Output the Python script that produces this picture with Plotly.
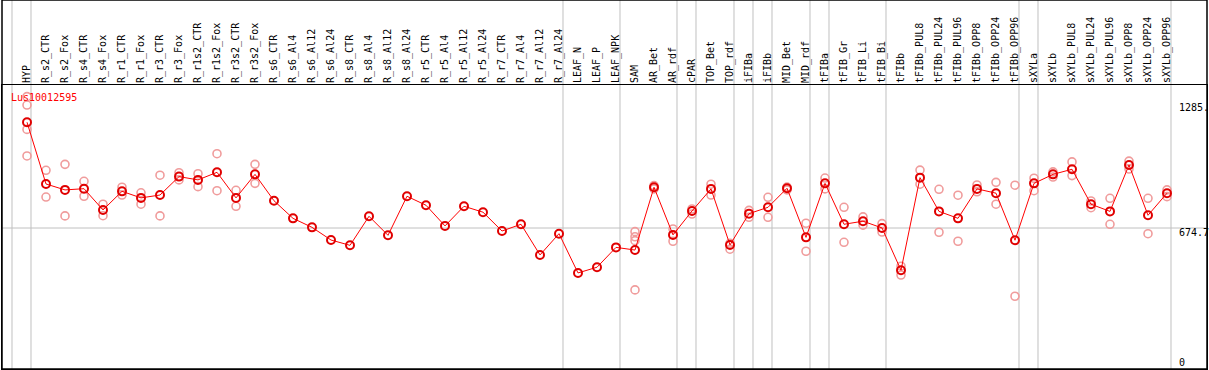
import plotly.graph_objects as go

categories = ["HYP", "R_s2_CTR", "R_s2_Fox", "R_s4_CTR", "R_s4_Fox", "R_r1_CTR", "R_r1_Fox",
              "R_r3_CTR", "R_r3_Fox", "R_r1s2_CTR", "R_r1s2_Fox", "R_r3s2_CTR", "R_r3s2_Fox",
              "R_s6_CTR", "R_s6_Al4", "R_s6_Al12", "R_s6_Al24", "R_s8_CTR", "R_s8_Al4", "R_s8_Al12",
              "R_s8_Al24", "R_r5_CTR", "R_r5_Al4", "R_r5_Al12", "R_r5_Al24", "R_r7_CTR", "R_r7_Al4",
              "R_r7_Al12", "R_r7_Al24", "LEAF_N", "LEAF_P", "LEAF_NPK", "SAM", "AR_Bet", "AR_rdf",
              "cPAR", "TOP_Bet", "TOP_rdf", "iFIBa", "iFIBb", "MID_Bet", "MID_rdf", "tFIBa",
              "tFIB_Gr", "tFIB_Li", "tFIB_Bi", "tFIBb", "tFIBb_PUL8", "tFIBb_PUL24", "tFIBb_PUL96",
              "tFIBb_OPP8", "tFIBb_OPP24", "tFIBb_OPP96", "sXYLa", "sXYLb", "sXYLb_PUL8",
              "sXYLb_PUL24", "sXYLb_PUL96", "sXYLb_OPP8", "sXYLb_OPP24", "sXYLb_OPP96"]

means = [1192, 890, 861, 867, 763, 854, 822, 836, 926, 910, 947, 822, 937, 808, 722, 678, 616,
         590, 732, 639, 830, 786, 685, 781, 752, 660, 693, 543, 647, 455, 483, 580, 567, 874,
         641, 758, 866, 592, 745, 776, 869, 629, 893, 693, 708, 675, 468, 921, 756, 722, 866,
         845, 615, 893, 937, 962, 791, 756, 983, 737, 845]

N = None
rep1 = [1317, 957, 986, 903, 791, 874, 847, 933, 945, 940, 1038, 859, 986,
        N, N, N, N, N, N, N, N, N, N, N, N, N, N, N, N, N, N, N,
        657, 882, 670, 768, 889, 600, 761, 825, 875, 698, 919, 776, 729, 696, 488, 958, 864,
        835, 885, 898, 884, 918, 949, 998, 807, 820, 1002, 820, 861]
rep2 = [1027, 826, 734, 830, 735, 836, 791, 734, 910, 877, 857, 781, 893,
        N, N, N, N, N, N, N, N, N, N, N, N, N, N, N, N, N, N, N,
        372, 866, 610, 743, 836, 571, 727, 727, 861, 561, 866, 605, 689, 655, 445, 889, 654,
        610, 852, 791, 341, 857, 924, 931, 774, 693, 963, 647, 828]
rep3 = [1276] + [N] * 31 + [632] + [N] * 28
rep4 = [1157] + [N] * 31 + [613] + [N] * 28

separators = [-1, 0, 28, 31, 34, 35, 37, 38, 39, 41, 42, 45, 52, 53, 60]
ref_value = 674.7
gene = "Lus10012595"
scale_labels = ["1285.", "674.7", "0"]

W, H = 1209, 370
ML, MR, MT, MB = 2, 2, 85, 1
plot_h = H - MT - MB
top_paper = 1 + MT / plot_h

fig = go.Figure()

rx, ry = [], []
for rep in (rep1, rep2, rep3, rep4):
    for c, v in zip(categories, rep):
        if v is not None:
            rx.append(c)
            ry.append(v)

fig.add_trace(go.Scatter(
    x=rx, y=ry, mode="markers",
    marker=dict(symbol="circle-open", size=8, color="#f09c9c", line=dict(width=1.6, color="#f09c9c")),
    hoverinfo="skip", showlegend=False))

fig.add_trace(go.Scatter(
    x=categories, y=means, mode="lines+markers",
    line=dict(color="#ff0000", width=1),
    marker=dict(symbol="circle-open", size=8, color="#e00000", line=dict(width=2, color="#e00000")),
    showlegend=False))

shapes = []
for s in separators:
    shapes.append(dict(type="line", xref="x", yref="paper", x0=s + 0.21, x1=s + 0.21,
                       y0=0, y1=top_paper, line=dict(color="#c0c0c0", width=1), layer="below"))
shapes.append(dict(type="line", xref="paper", yref="y", x0=0, x1=1, y0=ref_value, y1=ref_value,
                   line=dict(color="#c0c0c0", width=1), layer="below"))
shapes.append(dict(type="rect", xref="paper", yref="paper", x0=0, x1=1, y0=0, y1=top_paper,
                   line=dict(color="black", width=1.5)))

mono = "DejaVu Sans Mono"
annotations = [dict(text=gene, xref="paper", yref="paper", x=(9 - ML) / (W - ML - MR),
                    y=(H - MB - 97) / plot_h, xanchor="left", yanchor="middle", showarrow=False,
                    font=dict(family=mono, size=10, color="#ff0000"))]
for lab, py in zip(scale_labels, [107, 232, 362]):
    annotations.append(dict(text=lab, xref="paper", yref="paper",
                            x=(1177 - ML) / (W - ML - MR), y=(H - MB - py) / plot_h,
                            xanchor="left", yanchor="middle", showarrow=False,
                            font=dict(family=mono, size=10, color="black")))

fig.update_layout(
    width=W, height=H, autosize=False,
    margin=dict(l=ML, r=MR, t=MT, b=MB, pad=0),
    paper_bgcolor="white", plot_bgcolor="white",
    shapes=shapes, annotations=annotations,
    xaxis=dict(type="category", categoryorder="array", categoryarray=categories,
               side="top", tickangle=-90, range=[-25 / 19, 1180 / 19],
               showgrid=False, zeroline=False, ticks="", ticklabelstandoff=-1,
               tickfont=dict(family=mono, size=10, color="black"),
               showline=True, linecolor="black", linewidth=1, mirror=True),
    yaxis=dict(range=[-14.7, 1374], showgrid=False, zeroline=False, showticklabels=False,
               ticks="", showline=True, linecolor="black", linewidth=1, mirror=True),
)

fig.write_html("out.html", config={"displayModeBar": False},
               post_script="document.body.style.margin='0px';document.body.style.padding='0px';")
